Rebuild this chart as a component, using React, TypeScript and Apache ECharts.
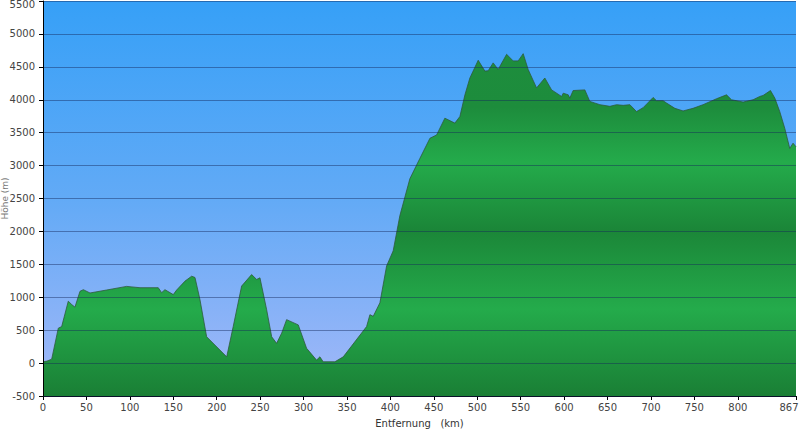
import React, { useEffect, useRef } from "react";
import * as echarts from "echarts";

// Distance along route (km)
const kmValues = [
  0, 4.6, 10, 17.6, 21.5, 29.1, 33, 36.8, 42.6, 46.4, 54.1, 73.3, 96.3, 111.7, 132.7, 136.6, 140.4, 150, 153.9,
  163.5, 171.2, 175, 180.7, 188.4, 211.5, 219, 228.7, 240.2, 246, 249.8, 257.5, 263.3, 269, 274.8, 280.5,
  293.9, 303.5, 315, 318.8, 322.6, 336.1, 345.7, 372.6, 376.4, 380.2, 387.9, 395.6, 403.2, 410.9, 422.4,
  434, 445.5, 453.2, 462.7, 474.2, 480, 485.8, 491.5, 501.1, 508.8, 512.6, 518.3, 524.1, 533.8, 541.4,
  547.1, 552.9, 558.6, 568.3, 577.8, 585.6, 597.1, 599, 604.7, 606.6, 610.4, 623.9, 629.6, 641.2, 652.7,
  660.4, 668, 675.7, 683.4, 691, 702.5, 706.4, 714, 717.9, 727.5, 737, 748.5, 760, 775.5, 787, 792.7,
  806.1, 817.6, 825.3, 829.1, 837.6, 842.6, 848.3, 854.1, 859.8, 863.6, 867,
];

// Elevation (m)
const elevValues = [
  20, 30, 60, 530, 555, 940, 890, 850, 1090, 1115, 1065, 1110, 1165, 1145, 1145, 1070, 1115, 1040, 1110,
  1245, 1320, 1300, 965, 400, 95, 555, 1170, 1345, 1270, 1295, 810, 400, 300, 455, 660,
  580, 225, 45, 95, 20, 20, 95, 555, 735, 710, 915, 1475, 1705, 2240, 2800,
  3110, 3415, 3465, 3720, 3645, 3745, 4075, 4330, 4600, 4435, 4440, 4560, 4460, 4690, 4590,
  4590, 4700, 4460, 4180, 4330, 4150, 4050, 4100, 4075, 4025, 4140, 4150, 3975, 3925, 3900,
  3925, 3915, 3925, 3820, 3880, 4035, 3985, 3985, 3950, 3870, 3830, 3870, 3925, 4015, 4075, 4000,
  3965, 4000, 4050, 4065, 4140, 4025, 3820, 3565, 3260, 3340, 3285,
];

const xTickValues = [0, 50, 100, 150, 200, 250, 300, 350, 400, 450, 500, 550, 600, 650, 700, 750, 800, 867];

const xAxisTitle = "Entfernung   (km)";
const yAxisTitle = "Höhe (m)";

export default function App() {
  const ref = useRef<HTMLDivElement | null>(null);

  useEffect(() => {
    if (!ref.current) return;
    const chart = echarts.init(ref.current, undefined, { renderer: "svg" });
    const data = kmValues.map((k, i) => [k, elevValues[i]]);
    const font = "DejaVu Sans";
    const lastX = xTickValues[xTickValues.length - 1];

    chart.setOption({
      animation: false,
      backgroundColor: "#ffffff",
      grid: {
        left: 43,
        right: 4,
        top: 1,
        bottom: 34,
        containLabel: false,
        outerBoundsMode: "none",
        show: true,
        borderWidth: 0,
        backgroundColor: new echarts.graphic.LinearGradient(0, 0, 0, 1, [
          { offset: 0, color: "#36a0f7" },
          { offset: 0.5, color: "#62aaf6" },
          { offset: 1, color: "#a4b8f8" },
        ]),
      },
      xAxis: {
        type: "value",
        min: 0,
        max: 867,
        name: xAxisTitle,
        nameLocation: "middle",
        nameGap: 22,
        nameMoveOverlap: false,
        nameTextStyle: { fontFamily: font, fontSize: 10, color: "#333" },
        axisLine: { show: true, onZero: false, lineStyle: { color: "#000", width: 1 } },
        axisTick: { show: true, length: 4, customValues: xTickValues, lineStyle: { color: "#000" } },
        axisLabel: {
          customValues: xTickValues,
          fontFamily: font,
          fontSize: 10,
          color: "#444",
          margin: 6,
          formatter: (v: number) => (v === lastX ? "{last|" + v + "}" : String(v)),
          rich: { last: { fontFamily: font, fontSize: 10, color: "#444", padding: [0, 14, 0, 0] } },
        },
        splitLine: { show: false },
      },
      yAxis: {
        type: "value",
        min: -500,
        max: 5500,
        interval: 500,
        z: 3,
        name: yAxisTitle,
        nameLocation: "middle",
        nameGap: 34,
        nameMoveOverlap: false,
        nameTextStyle: { fontFamily: font, fontSize: 9, color: "#777" },
        axisLine: { show: true, lineStyle: { color: "#000", width: 1 } },
        axisTick: { show: true, length: 4, lineStyle: { color: "#000" } },
        axisLabel: {
          fontFamily: font,
          fontSize: 10,
          color: "#444",
          margin: 8,
          formatter: (v: number) => (v === 5500 ? "{top|5500}" : String(v)),
          rich: { top: { fontFamily: font, fontSize: 10, color: "#444", padding: [7, 0, 0, 0] } },
        },
        splitLine: { show: true, lineStyle: { color: "rgba(20,40,90,0.45)", width: 1 } },
      },
      series: [
        {
          type: "line",
          data,
          symbol: "none",
          showSymbol: false,
          z: 2,
          lineStyle: { color: "#2f5a3c", width: 0.8 },
          areaStyle: {
            origin: "start",
            opacity: 1,
            color: {
              type: "linear",
              x: 0,
              y: 0,
              x2: 0,
              y2: 396,
              global: true,
              colorStops: [
                { offset: 0, color: "#1e8f3e" },
                { offset: 0.27, color: "#1d8c3c" },
                { offset: 0.41, color: "#24ab4b" },
                { offset: 0.58, color: "#1b8638" },
                { offset: 0.78, color: "#24ab4b" },
                { offset: 1, color: "#1a7f35" },
              ],
            },
          },
        },
      ],
    });
    return () => chart.dispose();
  }, []);

  return (
    <div
      ref={ref}
      style={{ position: "absolute", left: 0, top: 0, width: 800, height: 430 }}
    />
  );
}
